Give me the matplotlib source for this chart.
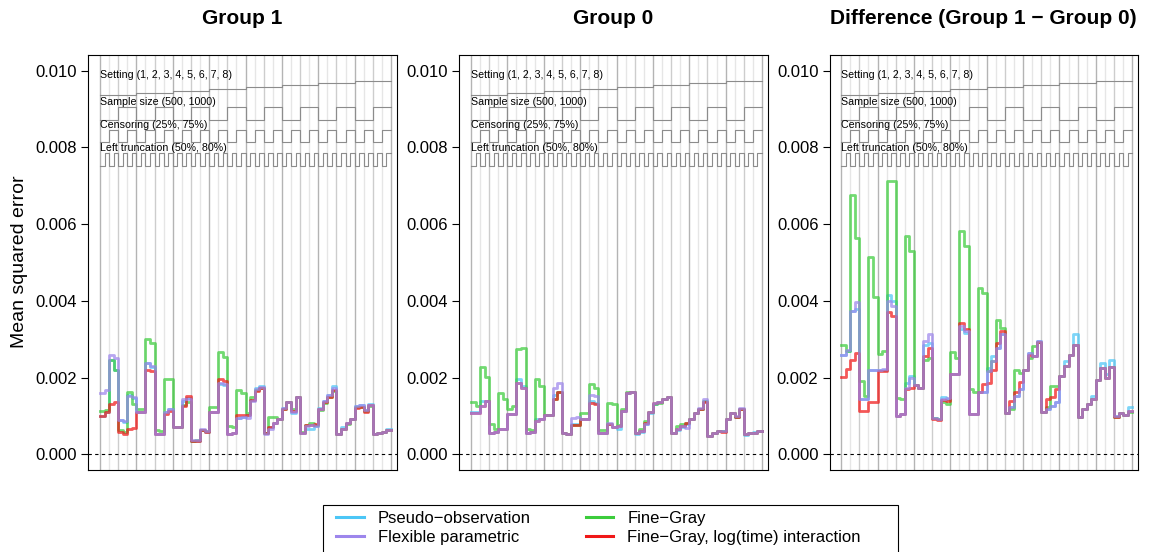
import itertools
import numpy as np
import matplotlib
matplotlib.use("Agg")
import matplotlib.pyplot as plt
from matplotlib.lines import Line2D
from matplotlib.patches import Rectangle

plt.rcParams['font.family'] = ['Liberation Sans', 'DejaVu Sans']

# Simulation design (nested loops, outermost first)
settings = [1, 2, 3, 4, 5, 6, 7, 8]
sample_sizes = [500, 1000]
censoring = ["25%", "75%"]
truncation = ["50%", "80%"]

methods = ["Pseudo\u2212observation", "Flexible parametric",
           "Fine\u2212Gray", "Fine\u2212Gray, log(time) interaction"]
colors = ["#4cc6f6", "#9d86ec", "#3ccc3c", "#f01818"]
draw_order = [0, 2, 3, 1]

# Mean squared error (x 1e-3) per scenario, 64 scenarios in loop order
g1_po = [1.00, 1.10, 2.47, 2.21, 0.89, 0.85, 1.55, 1.48, 1.09, 1.09, 2.37, 2.28, 0.54, 0.54, 1.09, 1.17,
         0.72, 0.72, 1.38, 1.48, 0.35, 0.35, 0.63, 0.58, 1.09, 1.09, 1.84, 1.80, 0.54, 0.56, 0.95, 0.98,
         1.02, 1.42, 1.74, 1.78, 0.55, 0.70, 0.81, 0.93, 1.20, 1.37, 1.08, 1.49, 0.56, 0.67, 0.65, 0.74,
         1.20, 1.40, 1.55, 1.78, 0.54, 0.70, 0.82, 0.93, 1.26, 1.29, 1.15, 1.32, 0.54, 0.56, 0.58, 0.65]
g1_fp = [1.59, 1.68, 2.59, 2.52, 0.89, 0.87, 1.52, 1.50, 1.09, 1.09, 2.37, 2.30, 0.54, 0.54, 1.09, 1.17,
         0.72, 0.72, 1.45, 1.43, 0.37, 0.37, 0.66, 0.60, 1.09, 1.09, 1.87, 1.82, 0.54, 0.56, 0.95, 0.98,
         0.95, 1.39, 1.70, 1.76, 0.54, 0.67, 0.81, 0.93, 1.20, 1.35, 1.10, 1.49, 0.56, 0.74, 0.76, 0.74,
         1.17, 1.38, 1.55, 1.74, 0.54, 0.67, 0.82, 0.93, 1.26, 1.28, 1.15, 1.29, 0.54, 0.56, 0.58, 0.63]
g1_fg = [1.13, 1.15, 2.46, 2.21, 0.62, 0.58, 1.62, 1.30, 1.19, 1.19, 3.01, 2.91, 0.63, 0.60, 1.95, 1.97,
         0.72, 0.72, 1.28, 1.35, 0.35, 0.37, 0.63, 0.60, 1.23, 1.23, 2.66, 2.54, 0.74, 0.70, 1.68, 1.59,
         1.07, 1.50, 1.68, 1.74, 0.55, 0.98, 0.98, 0.93, 1.17, 1.35, 1.17, 1.49, 0.58, 0.76, 0.81, 0.76,
         1.15, 1.33, 1.49, 1.66, 0.54, 0.67, 0.80, 0.91, 1.22, 1.24, 1.12, 1.27, 0.54, 0.56, 0.58, 0.63]
g1_fgl = [1.00, 1.10, 1.30, 1.35, 0.58, 0.54, 0.67, 0.69, 1.09, 1.09, 2.21, 2.17, 0.54, 0.54, 1.04, 1.13,
          0.72, 0.72, 1.26, 1.52, 0.35, 0.35, 0.63, 0.58, 1.09, 1.09, 1.97, 1.91, 0.54, 0.56, 1.02, 1.02,
          1.02, 1.42, 1.65, 1.72, 0.55, 0.72, 0.81, 0.93, 1.17, 1.35, 1.13, 1.49, 0.56, 0.76, 0.76, 0.78,
          1.17, 1.35, 1.50, 1.68, 0.54, 0.67, 0.81, 0.91, 1.20, 1.24, 1.10, 1.29, 0.54, 0.56, 0.58, 0.63]

g0_po = [1.09, 1.09, 1.39, 1.39, 0.55, 0.58, 0.65, 0.67, 1.04, 1.04, 1.97, 1.78, 0.56, 0.58, 0.93, 0.93,
         1.02, 1.02, 1.55, 1.62, 0.55, 0.52, 0.78, 0.78, 0.91, 0.93, 1.40, 1.33, 0.55, 0.55, 0.78, 0.71,
         0.65, 1.13, 1.59, 1.62, 0.52, 0.58, 0.80, 1.07, 1.31, 1.35, 1.45, 1.50, 0.56, 0.62, 0.70, 0.80,
         0.91, 1.07, 1.19, 1.40, 0.48, 0.56, 0.61, 0.61, 0.93, 1.07, 0.98, 1.17, 0.50, 0.55, 0.58, 0.60]
g0_fp = [1.07, 1.07, 1.26, 1.39, 0.55, 0.58, 0.65, 0.67, 1.04, 1.04, 1.87, 1.74, 0.56, 0.58, 0.87, 0.93,
         1.02, 1.02, 1.74, 1.87, 0.55, 0.52, 0.95, 0.98, 0.91, 0.93, 1.54, 1.52, 0.55, 0.55, 0.82, 0.71,
         0.74, 1.13, 1.59, 1.62, 0.55, 0.61, 0.80, 1.09, 1.33, 1.35, 1.45, 1.50, 0.56, 0.65, 0.74, 0.69,
         0.93, 1.07, 1.21, 1.43, 0.48, 0.56, 0.61, 0.61, 0.93, 1.07, 1.00, 1.21, 0.52, 0.55, 0.56, 0.60]
g0_fg = [1.36, 1.26, 2.27, 2.02, 0.80, 0.65, 1.61, 1.43, 1.19, 1.26, 2.75, 2.78, 0.65, 0.63, 1.97, 1.78,
         1.02, 1.02, 1.45, 1.62, 0.55, 0.52, 0.76, 0.76, 1.07, 1.07, 1.82, 1.74, 0.63, 0.62, 1.33, 1.30,
         0.76, 1.17, 1.62, 1.62, 0.55, 0.65, 0.87, 1.09, 1.31, 1.33, 1.45, 1.50, 0.56, 0.74, 0.78, 0.82,
         0.93, 1.07, 1.19, 1.39, 0.48, 0.56, 0.61, 0.61, 0.93, 1.07, 0.98, 1.17, 0.52, 0.55, 0.56, 0.60]
g0_fgl = [1.07, 1.07, 1.26, 1.39, 0.55, 0.58, 0.65, 0.67, 1.04, 1.04, 1.85, 1.74, 0.56, 0.58, 0.87, 0.93,
          1.02, 1.02, 1.45, 1.62, 0.55, 0.52, 0.76, 0.76, 0.91, 0.93, 1.33, 1.30, 0.55, 0.55, 0.78, 0.71,
          0.74, 1.13, 1.59, 1.62, 0.55, 0.61, 0.82, 1.09, 1.33, 1.35, 1.43, 1.50, 0.56, 0.65, 0.74, 0.82,
          0.93, 1.07, 1.17, 1.37, 0.48, 0.56, 0.61, 0.59, 0.93, 1.07, 0.96, 1.17, 0.52, 0.55, 0.56, 0.60]

d_po = [2.58, 2.69, 3.73, 3.80, 1.43, 1.43, 2.21, 2.21, 2.21, 2.21, 4.14, 3.99, 1.00, 1.04, 1.87, 2.04,
        1.80, 1.74, 2.86, 2.91, 0.95, 0.91, 1.50, 1.45, 2.08, 2.08, 3.27, 3.17, 1.04, 1.04, 1.62, 1.62,
        2.25, 2.56, 2.78, 3.13, 1.07, 1.22, 1.52, 1.69, 2.21, 2.65, 2.56, 2.95, 1.10, 1.19, 1.26, 1.35,
        2.04, 2.43, 2.60, 3.13, 0.98, 1.17, 1.30, 1.52, 1.94, 2.39, 2.08, 2.47, 1.00, 1.07, 1.02, 1.22]
d_fp = [2.58, 2.73, 3.73, 3.97, 1.43, 1.43, 2.21, 2.21, 2.21, 2.23, 3.99, 3.86, 1.00, 1.04, 1.74, 2.00,
        1.80, 1.74, 2.95, 3.13, 0.95, 0.91, 1.45, 1.48, 2.08, 2.08, 3.34, 3.21, 1.04, 1.04, 1.62, 1.62,
        2.17, 2.43, 2.78, 3.13, 1.07, 1.22, 1.52, 1.69, 2.21, 2.65, 2.56, 2.95, 1.10, 1.19, 1.26, 1.35,
        2.04, 2.30, 2.60, 2.86, 0.98, 1.17, 1.30, 1.43, 1.94, 2.26, 2.00, 2.28, 1.00, 1.07, 1.02, 1.13]
d_fg = [2.86, 2.69, 6.77, 5.64, 1.91, 1.52, 5.15, 4.11, 2.62, 2.69, 7.12, 7.12, 1.48, 1.43, 5.69, 5.30,
        1.80, 1.74, 2.47, 2.52, 0.95, 0.91, 1.35, 1.30, 2.66, 2.52, 5.82, 5.43, 1.69, 1.62, 4.34, 4.21,
        2.17, 2.43, 3.50, 3.30, 1.07, 1.19, 2.21, 2.13, 2.21, 2.52, 2.82, 2.93, 1.10, 1.22, 1.78, 1.78,
        2.04, 2.30, 2.60, 2.86, 0.98, 1.17, 1.30, 1.43, 1.94, 2.26, 2.00, 2.28, 0.98, 1.07, 1.02, 1.10]
d_fgl = [2.02, 2.23, 2.47, 2.65, 1.13, 1.13, 1.35, 1.35, 2.17, 2.17, 3.71, 3.60, 1.00, 1.04, 1.69, 1.74,
         1.80, 1.74, 2.56, 2.78, 0.91, 0.89, 1.42, 1.40, 2.08, 2.08, 3.43, 3.27, 1.04, 1.04, 1.62, 1.82,
         1.85, 2.20, 2.91, 3.21, 1.07, 1.39, 1.62, 1.88, 2.21, 2.60, 2.56, 2.93, 1.10, 1.43, 1.50, 1.69,
         2.04, 2.30, 2.60, 2.86, 0.98, 1.17, 1.30, 1.43, 1.94, 2.26, 2.00, 2.28, 0.98, 1.07, 1.02, 1.13]

panels = [
    ("Group 1", [g1_po, g1_fp, g1_fg, g1_fgl]),
    ("Group 0", [g0_po, g0_fp, g0_fg, g0_fgl]),
    ("Difference (Group 1 \u2212 Group 0)", [d_po, d_fp, d_fg, d_fgl]),
]

# loop indicator: (label, levels, y of first level, step between levels, label y)  in units of 1e-3
loops = [
    ("Setting", settings, 9.37, 0.053, 9.90),
    ("Sample size", sample_sizes, 8.72, 0.34, 9.19),
    ("Censoring", censoring, 8.15, 0.31, 8.59),
    ("Left truncation", truncation, 7.52, 0.33, 7.98),
]

grid = list(itertools.product(range(len(settings)), range(len(sample_sizes)),
                              range(len(censoring)), range(len(truncation))))
n = len(grid)
edges = np.arange(n + 1)

W, H = 1151, 552
fig = plt.figure(figsize=(W / 100, H / 100), dpi=100)

lefts = [88.3, 459.3, 829.5]
for (title, series), left in zip(panels, lefts):
    ax = fig.add_axes([left / W, (H - 470) / H, 308.4 / W, 415 / H])
    ax.set_xlim(-2.57, 65.25)
    ax.set_ylim(-0.41e-3, 10.41e-3)

    # reference lines at every second scenario, darker for outer loops
    for j in range(0, n + 1, 2):
        if j % 8 == 0:
            c = "#b4b4b4"
        elif j % 4 == 0:
            c = "#cdcdcd"
        else:
            c = "#e6e6e6"
        ax.axvline(j, color=c, lw=1.0, zorder=0)

    ax.axhline(0, color="black", lw=0.8, ls=(0, (3, 3)), zorder=1)

    # nested loop step lines with labels
    for k, (name, levels, y0, dy, ty) in enumerate(loops):
        idx = np.array([g[k] for g in grid])
        yy = (y0 + idx * dy) * 1e-3
        ax.step(edges, np.append(yy, yy[-1]), where="post", color="#8c8c8c", lw=0.8, zorder=1)
        lab = "%s (%s)" % (name, ", ".join(str(v) for v in levels))
        ax.text(0, ty * 1e-3, lab, fontsize=7.7, ha="left", va="center", zorder=3)

    for m in draw_order:
        v = np.array(series[m]) * 1e-3
        ax.step(edges, np.append(v, v[-1]), where="post", color=colors[m], lw=2.0, alpha=0.72, zorder=2)

    ax.set_xticks([])
    yt = np.arange(0, 0.0101, 0.002)
    ax.set_yticks(yt)
    ax.set_yticklabels(["%.3f" % t for t in yt], fontsize=12)
    ax.tick_params(axis="y", direction="out", length=5, width=0.8, pad=3)
    for s in ax.spines.values():
        s.set_linewidth(0.8)
    ax.text(0.5, 1 + 37 / 415, title, transform=ax.transAxes, ha="center", va="center",
            fontsize=15, fontweight="bold")

fig.text(20 / W, 1 - 262 / H, "Mean squared error", rotation=90, ha="center", va="center", fontsize=14)

# legend box runs off the bottom edge
fig.add_artist(Rectangle((323 / W, -0.05), (898 - 323) / W, 0.05 + (H - 505) / H,
                         transform=fig.transFigure, fill=False, edgecolor="black", lw=0.8))
handles = [Line2D([], [], color=c, lw=2.2) for c in colors]
fig.legend(handles, methods, ncol=2, loc="upper left", bbox_to_anchor=(336 / W, 1 - 511 / H),
           frameon=False, fontsize=12, handlelength=1.65, handletextpad=0.85, columnspacing=3.3,
           borderpad=0, labelspacing=0.25, borderaxespad=0)

fig.savefig("out.png", dpi=100)
